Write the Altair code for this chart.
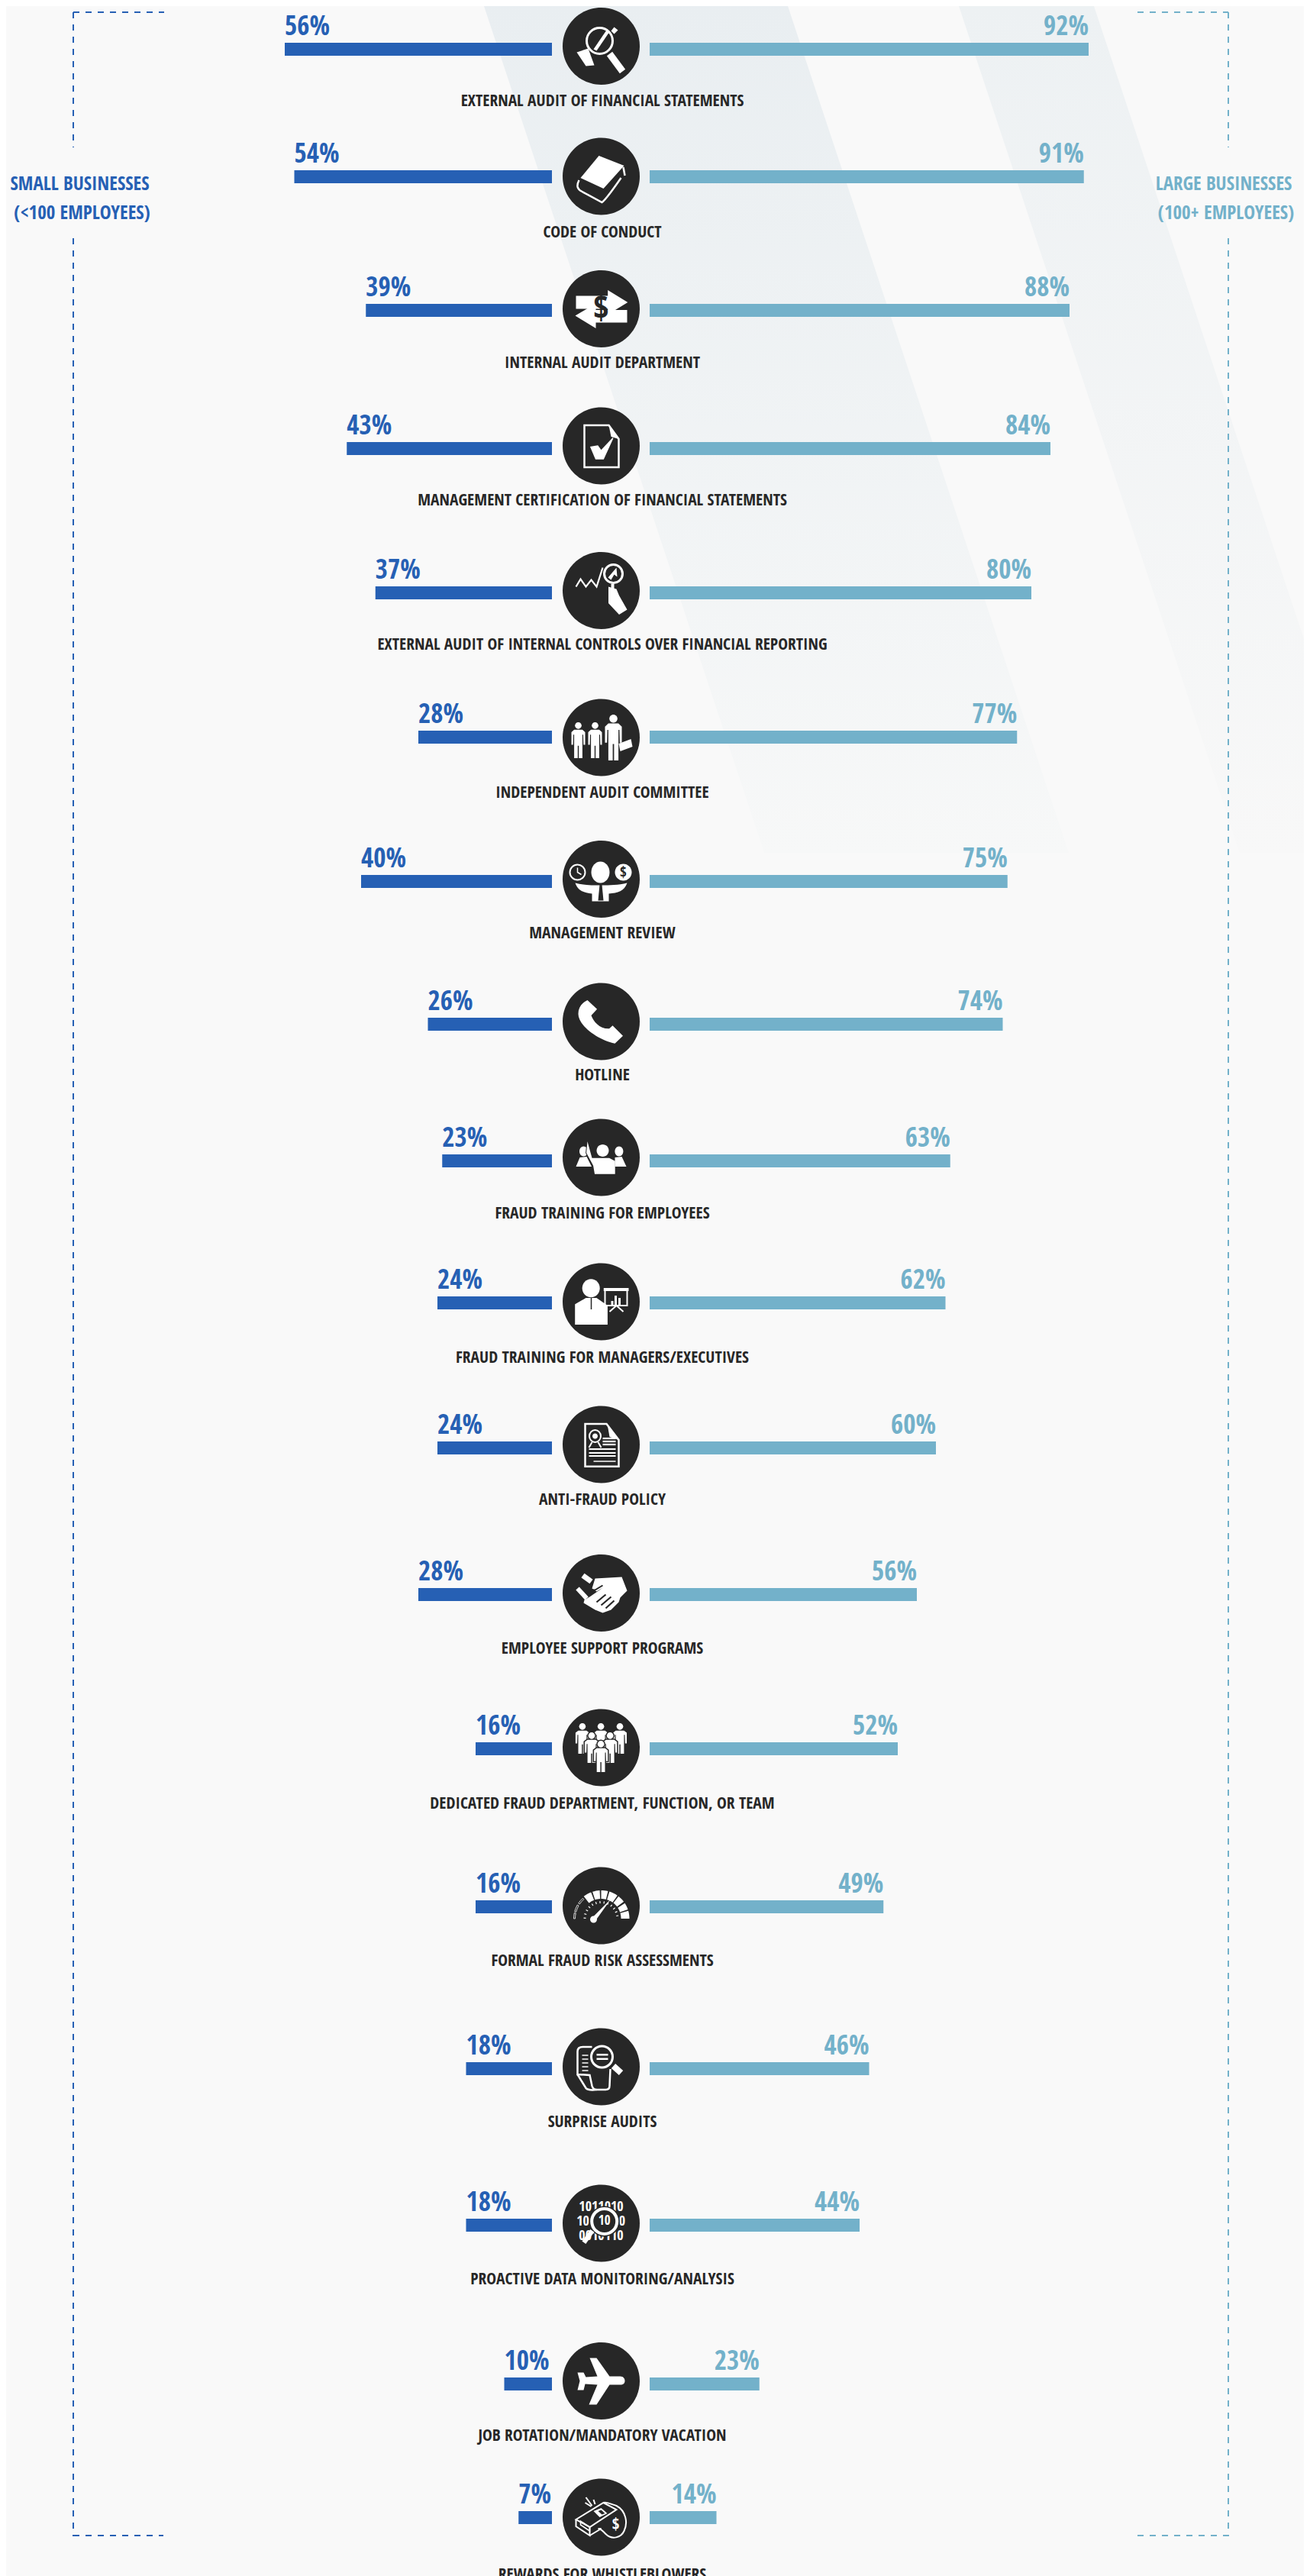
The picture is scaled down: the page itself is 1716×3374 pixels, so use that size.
import math
import re
import altair as alt
import pandas as pd

# ---------- chart values ----------
LABELS = [
    "EXTERNAL AUDIT OF FINANCIAL STATEMENTS", "CODE OF CONDUCT", "INTERNAL AUDIT DEPARTMENT",
    "MANAGEMENT CERTIFICATION OF FINANCIAL STATEMENTS",
    "EXTERNAL AUDIT OF INTERNAL CONTROLS OVER FINANCIAL REPORTING",
    "INDEPENDENT AUDIT COMMITTEE", "MANAGEMENT REVIEW", "HOTLINE", "FRAUD TRAINING FOR EMPLOYEES",
    "FRAUD TRAINING FOR MANAGERS/EXECUTIVES", "ANTI-FRAUD POLICY", "EMPLOYEE SUPPORT PROGRAMS",
    "DEDICATED FRAUD DEPARTMENT, FUNCTION, OR TEAM", "FORMAL FRAUD RISK ASSESSMENTS", "SURPRISE AUDITS",
    "PROACTIVE DATA MONITORING/ANALYSIS", "JOB ROTATION/MANDATORY VACATION", "REWARDS FOR WHISTLEBLOWERS",
]
SMALL = [56, 54, 39, 43, 37, 28, 40, 26, 23, 24, 24, 28, 16, 16, 18, 18, 10, 7]
LARGE = [92, 91, 88, 84, 80, 77, 75, 74, 63, 62, 60, 56, 52, 49, 46, 44, 23, 14]

# ---------- layout (page pixels) ----------
BAR_TOP = [56, 223, 398, 579, 768, 957, 1146, 1333, 1512, 1698, 1888, 2080, 2282, 2489, 2701, 2906, 3114, 3289]
ICON_Y = [60.5, 231, 404.5, 584, 773.5, 966, 1151.5, 1338, 1516, 1705, 1892, 2086.5, 2289, 2496, 2707, 2912, 3118.5, 3297]
LABEL_BOTTOM = [141, 313, 484, 664, 853, 1047, 1231, 1417, 1598, 1787, 1973, 2168, 2371, 2577, 2788, 2994, 3199, 3381]
ICON_X, LEFT_END, RIGHT_START, PX_PER_PCT, BAR_H = 787.5, 723, 851, 6.25, 17
LABEL_X = 789
R = 50.5
BLUE, TEAL, DARK, WHITE, BG = "#2660b4", "#73b1ca", "#272727", "#ffffff", "#f9f9f9"
FONT = "Open Sans Condensed"
LABEL_SIZE, PCT_SIZE, SIDE_SIZE = 21.5, 35, 25


# ---------- icon geometry helpers, in pixels relative to the icon centre ----------
def n(v):
    return f"{v / R:.4f}"


def poly(*pts, close=True):
    s = "M" + " L".join(f"{n(x)} {n(y)}" for x, y in pts)
    return s + (" Z" if close else "")


def ell(x, y, rx, ry=None):
    ry = rx if ry is None else ry
    k = 0.5523
    return (f"M{n(x - rx)} {n(y)} C{n(x - rx)} {n(y - k * ry)} {n(x - k * rx)} {n(y - ry)} {n(x)} {n(y - ry)} "
            f"C{n(x + k * rx)} {n(y - ry)} {n(x + rx)} {n(y - k * ry)} {n(x + rx)} {n(y)} "
            f"C{n(x + rx)} {n(y + k * ry)} {n(x + k * rx)} {n(y + ry)} {n(x)} {n(y + ry)} "
            f"C{n(x - k * rx)} {n(y + ry)} {n(x - rx)} {n(y + k * ry)} {n(x - rx)} {n(y)} Z")


def rect(x0, y0, x1, y1):
    return poly((x0, y0), (x1, y0), (x1, y1), (x0, y1))


def raw(d):
    return re.sub(r"-?\d+\.?\d*", lambda m: n(float(m.group())), d)


def sector(cx, cy, r0, r1, a0, a1, steps=6):
    pts = []
    for i in range(steps + 1):
        a = math.radians(a0 + (a1 - a0) * i / steps)
        pts.append((cx + r1 * math.cos(a), cy - r1 * math.sin(a)))
    for i in range(steps, -1, -1):
        a = math.radians(a0 + (a1 - a0) * i / steps)
        pts.append((cx + r0 * math.cos(a), cy - r0 * math.sin(a)))
    return poly(*pts)


def F(d, color=WHITE):
    return (d, color, "transparent", 0)


def S(d, w=2.0, color=WHITE):
    return (d, "transparent", color, w)


def person(cx, top, w, h, outline=False):
    r = w * 0.24
    y0 = top + 2 * r + 1
    b = top + h
    body = poly(
        (cx - .3 * w, y0), (cx + .3 * w, y0), (cx + .5 * w, y0 + .07 * h), (cx + .5 * w, y0 + .42 * h),
        (cx + .38 * w, y0 + .42 * h), (cx + .36 * w, y0 + .14 * h), (cx + .3 * w, y0 + .14 * h),
        (cx + .3 * w, b), (cx + .04 * w, b), (cx + .04 * w, y0 + .45 * h), (cx - .04 * w, y0 + .45 * h),
        (cx - .04 * w, b), (cx - .3 * w, b), (cx - .3 * w, y0 + .14 * h), (cx - .36 * w, y0 + .14 * h),
        (cx - .38 * w, y0 + .42 * h), (cx - .5 * w, y0 + .42 * h), (cx - .5 * w, y0 + .07 * h),
    )
    parts = []
    if outline:
        parts += [S(ell(cx, top + r, r), 3, DARK), S(body, 3, DARK)]
    return parts + [F(ell(cx, top + r, r)), F(body)]


ICONS = [
    # external audit: magnifier and glove
    [S(ell(-2, -7, 17), 3), F(poly((7, -21), (11, -19), (-6, 6), (-10, 4))),
     F(poly((17, -25), (22, -21), (17, -16), (13, -20))), S(poly((11, 10), (28, 33), close=False), 9),
     F(poly((-32, 8), (-17, 3), (-9, 25), (-20, 26)))],
    # code of conduct: book
    [F(poly((-3, -27), (30, -14), (3, 16), (-27, 2))),
     S(raw("M-29 5 C-33 13 -31 17 -25 20 L1 34 C4 32 8 28 26 2"), 2.5),
     S(poly((29, -12), (31, -1), close=False), 2.5)],
    # internal audit: arrows and dollar
    [F(poly((-33, -17), (8.7, -17), (8.7, -24.5), (34.8, -8.5), (8.7, 7.5), (8.7, 0), (-33, 0))),
     F(poly((34, 1.5), (-7, 1.5), (-7, -7), (-34, 9), (-7, 25.5), (-7, 18), (34, 18)))],
    # management certification: checked document
    [S(poly((-22, -27), (10, -27), (23, -9), (23, 28), (-22, 28)), 2.5),
     F(poly((10, -27), (23, -9), (13, -12))),
     F(poly((-14.6, 1), (-4.3, -0.7), (0, 5.3), (15, -10.7), (16, -10), (3.3, 17.7), (-7.5, 17.7)))],
    # external audit of internal controls: chart, lens and hand
    [S(poly((-33, -5), (-27, -15), (-20, -5), (-13, -14), (-6, -5), (2, -30), close=False), 2.2),
     S(ell(16, -22, 12), 3), F(poly((9, -17), (20, -30), (21, -18), (17, -21), (13, -14))),
     S(poly((15, -9), (15, -2), close=False), 4),
     F(poly((9.5, -5), (20, -2), (23.5, 6.5), (34, 25), (23.5, 31.5), (9.5, 16.5)))],
    # independent audit committee: three people and briefcase
    person(-30, -20, 18, 47) + person(-8, -20, 18, 47) + person(16, -30, 22, 60) +
    [F(poly((23, 8), (39, 2), (41, 12), (25, 18)))],
    # management review: person, clock, dollar
    [F(ell(-1, -9, 12, 14)), S(ell(-31, -9, 10), 2), S(poly((-31, -15), (-31, -9), (-26, -6), close=False), 1.5),
     F(ell(29, -9, 11)),
     F(raw("M-34 5 C-22 8 -12 8 0 8 C12 8 22 8 34 5 C30 16 22 18 10 19 L10 29 L-12 29 L-12 19 C-22 18 -30 16 -34 5 Z")),
     F(poly((-2, 7), (1, 7), (3, 28), (-4, 28)), DARK)],
    # hotline: phone
    [F(raw("M-18 -28 L-5.4 -16.3 L-13 -8 C-10 0 -2 10 10.6 9.3 L15 5.3 L28.5 18.7 L18 28.7 "
           "C-5 24 -30 5 -30 -10 C-30 -18 -26 -24 -18 -28 Z"))],
    # fraud training for employees: raised hand
    [F(ell(2, -9, 8)), F(ell(-23, -8, 5.5, 6.5)), F(ell(23.4, -8, 5.5, 6.5)),
     F(poly((-33, 12), (-28, 0), (-19, -1), (-12.5, 12))), F(poly((18, 0), (27, -1), (33, 12), (18, 12))),
     S(poly((-18, -21), (-19.4, -6), (-10.4, 10.7), (-8.5, 21.7)), 2, DARK),
     F(poly((-18, -21), (-12, 0.7), (10.6, 0.7), (18.2, 4.7), (18.2, 21.7), (-8.5, 21.7), (-10.4, 10.7), (-19.4, -6)))],
    # fraud training for managers: presenter with board
    [F(ell(-13.3, -17.7, 11.5, 12)),
     F(poly((-34.3, 30), (-34.3, 3.3), (-20, -5), (-6, -5), (8.4, 5), (8.4, 30))),
     S(poly((-13, -5), (-13, 10), close=False), 1.5, DARK),
     F(rect(3.3, -18, 36, -14)), S(rect(5, -15, 34, 5), 2),
     F(rect(13, -1, 16, 4)), F(rect(17.5, -8, 20.5, 4)), F(rect(22.5, -5, 25.5, 4)),
     S(poly((20, 5), (11, 13), close=False), 2), S(poly((20, 5), (29, 13), close=False), 2)],
    # anti-fraud policy: certificate
    [S(poly((-21, -27), (7, -27), (23, -6), (23, 28.7), (-21, 28.7)), 2.5),
     F(poly((8, -27), (23, -6), (11, -10))),
     S(ell(-8, -11, 7.5, 8), 2), F(ell(-8, -11, 3.5)), S(poly((-12, -3), (-16, 4), close=False), 2),
     S(poly((-4, -3), (0, 4), close=False), 2),
     S(poly((2, -8), (19, -8), close=False), 2.2), S(poly((2, -4), (19, -4), close=False), 2.2),
     S(poly((2, 0), (19, 0), close=False), 2.2), S(poly((-16, 6), (19, 6), close=False), 2.2),
     S(poly((-16, 11), (19, 11), close=False), 2.2), S(poly((-16, 15), (19, 15), close=False), 2.2),
     S(poly((-10, 22), (19, 22), close=False), 1.5)],
    # employee support: handshake
    [F(poly((-8, -19), (27, -21), (34, -3), (25, 6), (23, 12), (13, 22), (2, 26), (-8, 22), (-23, 13), (-22, 9),
            (-15, 5), (-2, -4), (2, -7), (-6, -2), (-12, -6))),
     S(poly((-24, -23), (-13, -15), close=False), 7), S(poly((-31, -6), (-19, 7), close=False), 6),
     S(poly((0, 16), (13, 5), close=False), 2.2, DARK), S(poly((6, 20), (17, 10), close=False), 2.2, DARK),
     S(poly((-6, 12), (6, 2), close=False), 2.2, DARK), S(poly((-12, -4), (-8, -4), (2, -10), close=False), 2, DARK)],
    # dedicated fraud team: group of people
    person(-24.6, -32, 18, 40) + person(-0.4, -32, 18, 40) + person(24.5, -32, 18, 40) +
    person(-12.5, -20, 18, 40, True) + person(11.7, -20, 18, 40, True) + person(-0.4, -9, 18, 41, True),
    # formal risk assessments: gauge
    [F(sector(0, 17, 26, 37, a0, a1, 4)) for a0, a1 in
     [(0, 16), (19, 33), (37, 52), (55, 73), (76, 90), (93, 108), (111, 128)]] +
    [S(sector(0, 17, 34, 36, a0, a1, 2), 0.8) for a0, a1 in [(132, 146), (150, 165), (168, 180)]] +
    [S(poly((20 * math.cos(math.radians(a)), 17 - 20 * math.sin(math.radians(a))),
            (23 * math.cos(math.radians(a)), 17 - 23 * math.sin(math.radians(a))), close=False), 1.2)
     for a in range(10, 180, 14)] +
    [F(poly((-13, 17), (-7, 19), (13, -9))), F(ell(-10, 18, 4.5))],
    # surprise audits: receipt and lens
    [S(raw("M-12 -26 L-24 -26 C-29 -26 -31 -24 -31 -20 L-31 10 L-15 11 L-12 25 C-11 29 -9 30 -6 30 L6 30 "
           "C10 30 11 28 11 25 L12 3"), 2.5),
     S(raw("M-31 10 L-20 28 C-18 30 -14 31 -6 30"), 2.5),
     S(poly((-25, -15), (-17, -15), close=False), 1.5), S(poly((-25, -10), (-17, -10), close=False), 1.5),
     S(poly((-25, -5), (-17, -5), close=False), 1.5), S(poly((-25, 0), (-17, 0), close=False), 1.5),
     S(poly((-25, 5), (-17, 5), close=False), 1.5),
     F(ell(1, -13, 15), DARK), S(ell(1, -13, 14), 3),
     F(rect(-6, -17, 9, -14.5)), F(rect(-6, -11.5, 9, -9)),
     S(poly((16, -1), (26, 8), close=False), 8)],
    # proactive monitoring: lens over binary digits
    [F(ell(4.2, -2.6, 20), DARK), S(ell(4.2, -2.6, 16.5), 4), S(poly((-11.7, 9.7), (-22.6, 25.3), close=False), 6)],
    # job rotation: airplane
    [F(raw("M-15 -30 L-6 -30 L11 -6 L25 -6 C29 -6 31 -3 31 0 C31 3 29 5 25 5 L11 5 L-6 31 L-16 31 L-5 5 L-21 4 "
           "L-23 12 L-31 12 L-28 0 L-31 -11 L-23 -11 L-20 -5 L-5 -6 Z"))],
    # rewards: whistle
    [S(poly((-33, 3), (3, -19), (20, -10), (-15, 13)), 2),
     S(poly((-33, 3), (-33, 12), (-15, 24), (-15, 13), close=False), 2),
     S(poly((-15, 24), (0, 15), close=False), 2),
     S(raw("M3 -19 C5 -21 14 -17 20 -15 C33 -8 35 8 30 18 C26 27 14 30 6 22 C2 18 0 15 -4 15 L0 15"), 2),
     S(raw("M-27 5 L-15 13 L-15 18 L-27 10 Z"), 1.5),
     F(poly((-10, -8), (0, -12), (8, -5), (-2, 0))),
     F(poly((-4, -8), (0, -9.5), (5, -5), (1, -3.5)), DARK),
     S(poly((-20, -26), (-12, -15), close=False), 2), S(poly((-21, -19), (-13, -14), close=False), 2),
     S(poly((-10, -23), (-8, -17), close=False), 2)],
]

ICON_TEXTS = [
    (2, 0, 0, "$", DARK, 44, "late"), (6, 29, -9, "$", DARK, 19, "late"),
    (15, 0, -21, "1011010", WHITE, 18, "early"), (15, -24, -2, "10", WHITE, 18, "early"),
    (15, 27.5, -2, "0", WHITE, 18, "early"),
    (15, 0, 17, "0010110", WHITE, 18, "early"), (15, 4.2, -2.6, "10", WHITE, 17, "late"),
    (17, 19, 10, "$", WHITE, 21, "late"),
]

# ---------- tables ----------
rows = pd.DataFrame({
    "label": LABELS, "small": SMALL, "large": LARGE, "bar_top": BAR_TOP,
    "icon_y": ICON_Y, "label_bottom": LABEL_BOTTOM,
})
rows["bar_bottom"] = rows.bar_top + BAR_H
rows["small_start"] = LEFT_END - rows.small * PX_PER_PCT
rows["small_end"] = LEFT_END
rows["large_start"] = RIGHT_START
rows["large_end"] = RIGHT_START + rows.large * PX_PER_PCT
rows["pct_y"] = rows.bar_top - 10
rows["small_text"] = rows.small.astype(str) + "%"
rows["large_text"] = rows.large.astype(str) + "%"
rows["label_x"] = LABEL_X
rows["label_y"] = rows.label_bottom - 2.5

parts = [{"x": ICON_X, "y": ICON_Y[i], "path": ell(0, 0, R), "fill": DARK, "stroke": "transparent", "sw": 0}
         for i in range(len(ICONS))]
for i, icon in enumerate(ICONS):
    for d, fill, stroke, sw in icon:
        parts.append({"x": ICON_X, "y": ICON_Y[i], "path": d, "fill": fill, "stroke": stroke, "sw": sw})
parts = pd.DataFrame(parts)

itext = pd.DataFrame([
    {"x": ICON_X + dx, "y": ICON_Y[i] + dy, "t": t, "c": c, "s": s, "when": w}
    for i, dx, dy, t, c, s, w in ICON_TEXTS
])

bands = pd.DataFrame({
    "y": [8, 1117, 8, 1117],
    "x0": [634, 1001, 1256, 1624],
    "x1": [1032, 1400, 1433, 1801],
    "band": ["a", "a", "b", "b"],
})

v_dash = pd.DataFrame({
    "x": [96, 96, 1609, 1609], "y0": [16, 312, 16, 312], "y1": [193, 3322, 193, 3322],
    "c": [BLUE, BLUE, TEAL, TEAL],
})
h_dash = pd.DataFrame({
    "y": [16, 3321, 16, 3321], "x0": [96, 96, 1490, 1490], "x1": [215, 214, 1609, 1609],
    "c": [BLUE, BLUE, TEAL, TEAL],
})
side = pd.DataFrame([
    {"x": 104.5, "y": 249, "t": "SMALL BUSINESSES", "c": BLUE, "w": "bold"},
    {"x": 107.5, "y": 287, "t": "(<100 EMPLOYEES)", "c": BLUE, "w": "normal"},
    {"x": 1603, "y": 249, "t": "LARGE BUSINESSES", "c": TEAL, "w": "bold"},
    {"x": 1606, "y": 287, "t": "(100+ EMPLOYEES)", "c": TEAL, "w": "normal"},
])

# ---------- scales: one scale unit is one page pixel ----------
XS = alt.Scale(domain=[8, 1708], nice=False, zero=False, padding=0)
YS = alt.Scale(domain=[3374, 8], nice=False, zero=False, padding=0)


def X(f):
    return alt.X(f"{f}:Q", scale=XS, axis=None, title=None)


def Y(f):
    return alt.Y(f"{f}:Q", scale=YS, axis=None, title=None)


def grad(top, bottom):
    return alt.Gradient(gradient="linear", x1=0, y1=0, x2=0, y2=1,
                        stops=[alt.GradientStop(offset=0, color=top), alt.GradientStop(offset=1, color=bottom)])


def band(name, top, bottom):
    return alt.Chart(bands[bands.band == name]).mark_area(orient="horizontal", clip=True, fill=grad(top, bottom)).encode(
        y=Y("y"), x=alt.X("x0:Q", scale=XS, axis=None, title=None, stack=None), x2="x1:Q")


def bar(start, end, color):
    return alt.Chart(rows).mark_rect(color=color).encode(
        x=X(start), x2=f"{end}:Q", y=Y("bar_top"), y2="bar_bottom:Q")


def pct(xf, tf, color, align):
    return alt.Chart(rows).mark_text(font=FONT, fontSize=PCT_SIZE, fontWeight="bold", color=color, align=align,
                                     baseline="alphabetic").encode(x=X(xf), y=Y("pct_y"), text=f"{tf}:N")


v_rule = alt.Chart(v_dash).mark_rule(strokeWidth=2, strokeDash=[8, 8]).encode(
    x=X("x"), y=Y("y0"), y2="y1:Q", color=alt.Color("c:N", scale=None))
h_rule = alt.Chart(h_dash).mark_rule(strokeWidth=2, strokeDash=[8, 8]).encode(
    y=Y("y"), x=X("x0"), x2="x1:Q", color=alt.Color("c:N", scale=None))


def side_text(weight):
    return alt.Chart(side[side.w == weight]).mark_text(
        font=FONT, fontSize=SIDE_SIZE, fontWeight=weight, baseline="alphabetic", align="center").encode(
        x=X("x"), y=Y("y"), text="t:N", color=alt.Color("c:N", scale=None))


def icon_text(when):
    return alt.Chart(itext[itext.when == when]).mark_text(
        font=FONT, fontWeight="bold", align="center", baseline="middle").encode(
        x=X("x"), y=Y("y"), text="t:N", color=alt.Color("c:N", scale=None),
        size=alt.Size("s:Q", scale=None))


def marks(frame):
    return alt.Chart(frame).mark_point(filled=True, opacity=1, size=(2 * R) ** 2).encode(
        x=X("x"), y=Y("y"), shape=alt.Shape("path:N", scale=None), fill=alt.Fill("fill:N", scale=None),
        stroke=alt.Stroke("stroke:N", scale=None), strokeWidth=alt.StrokeWidth("sw:Q", scale=None))


labels = alt.Chart(rows).mark_text(font=FONT, fontSize=LABEL_SIZE, fontWeight="bold", color=DARK, align="center",
                                   baseline="alphabetic").encode(x=X("label_x"), y=Y("label_y"), text="label:N")

chart = alt.layer(
    band("a", "#e9eef1", "#f7f8f8"), band("b", "#edf1f3", "#f8f8f8"),
    v_rule, h_rule, side_text("bold"), side_text("normal"),
    bar("small_start", "small_end", BLUE), bar("large_start", "large_end", TEAL),
    pct("small_start", "small_text", BLUE, "left"), pct("large_end", "large_text", TEAL, "right"),
    marks(parts.iloc[:18]), icon_text("early"), marks(parts.iloc[18:]), icon_text("late"), labels,
).properties(width=1700, height=3366, background=BG, padding=0, autosize=alt.AutoSizeParams(type="none")
).configure_view(stroke=None)

chart.save("out.html", embed_options={"renderer": "svg", "actions": False})
